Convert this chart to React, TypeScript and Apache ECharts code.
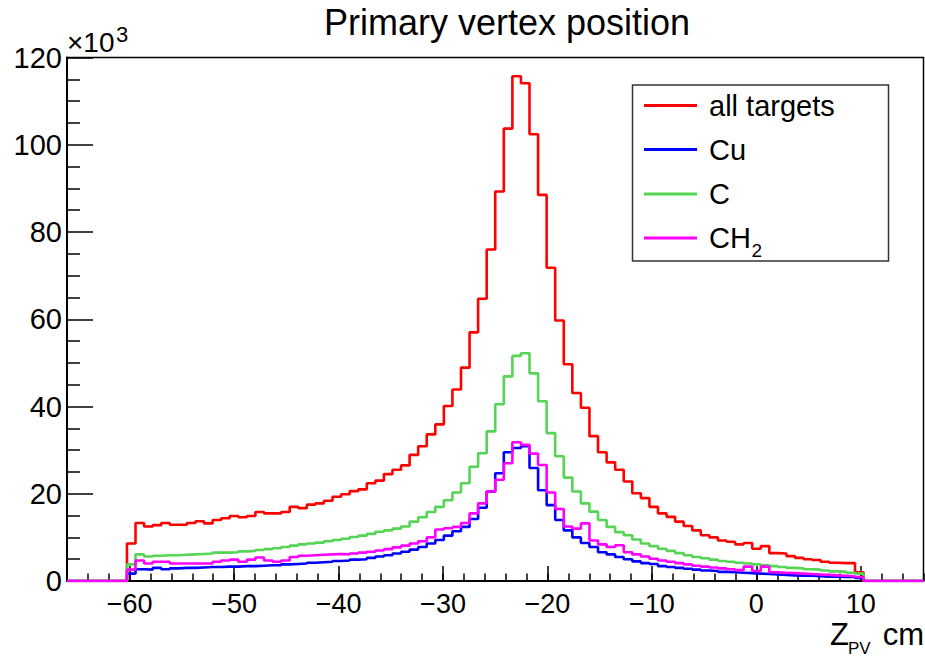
import React, { useEffect, useRef } from 'react';
import * as echarts from 'echarts';

const X_MIN = -66;
const X_MAX = 16;
const FIRST_BIN_EDGE = -60.26;
const BIN_WIDTH = 0.82;

const allTargets = [
  8.6, 13.3, 12.5, 12.8, 13.3, 12.9, 12.9, 13.3, 13.7, 13.2,
  14.0, 14.4, 14.9, 14.6, 14.9, 15.8, 15.5, 15.5, 15.8, 17.0,
  16.7, 17.5, 17.8, 18.4, 19.3, 19.9, 20.6, 21.0, 22.4, 23.0,
  24.5, 25.5, 26.5, 28.9, 30.9, 33.6, 35.9, 40.1, 43.9, 48.9,
  57.0, 64.7, 76.0, 89.3, 103.7, 115.7, 114.1, 102.4, 88.5, 71.8,
  59.7, 49.7, 43.1, 39.7, 33.2, 29.5, 27.2, 25.5, 22.8, 20.1,
  19.0, 17.0, 15.5, 14.7, 13.6, 12.6, 11.6, 10.5, 10.0, 9.3,
  9.0, 8.4, 8.7, 7.4, 8.0, 6.4, 6.3, 5.7, 5.3, 5.0,
  4.8, 4.4, 4.2, 4.1, 4.1, 2.0,
];

const cu = [
  1.7, 2.7, 2.6, 3.0, 2.7, 2.9, 3.0, 3.0, 3.1, 3.2,
  3.2, 3.3, 3.3, 3.4, 3.4, 3.5, 3.6, 3.6, 3.8, 3.9,
  4.0, 4.2, 4.3, 4.4, 4.6, 4.7, 4.9, 5.0, 5.3, 5.6,
  5.9, 6.3, 6.7, 7.2, 7.8, 8.6, 9.4, 10.4, 11.4, 12.4,
  14.2, 16.8, 20.5, 24.7, 29.5, 30.5, 30.9, 25.9, 20.8, 17.4,
  14.0, 11.6, 10.0, 8.7, 7.8, 6.6, 6.1, 5.5, 5.0, 4.5,
  4.1, 3.9, 3.4, 3.2, 3.0, 2.8, 2.6, 2.4, 2.3, 2.1,
  2.0, 1.9, 1.8, 1.7, 1.6, 1.5, 1.4, 1.3, 1.2, 1.2,
  1.1, 1.0, 1.0, 0.9, 0.9, 0.7,
];

const c = [
  3.8, 6.1, 5.6, 5.8, 5.9, 5.9, 6.0, 6.1, 6.2, 6.3,
  6.5, 6.5, 6.6, 6.8, 6.9, 7.1, 7.3, 7.5, 7.8, 8.1,
  8.4, 8.6, 8.8, 9.1, 9.4, 9.7, 10.1, 10.4, 10.8, 11.3,
  11.6, 12.0, 12.5, 13.6, 14.6, 15.8, 17.0, 18.5, 20.3, 22.4,
  26.2, 29.3, 34.3, 40.5, 46.9, 51.6, 52.2, 47.6, 41.2, 33.9,
  28.6, 23.7, 20.5, 17.8, 15.9, 14.0, 12.4, 11.2, 10.5, 9.5,
  8.6, 8.0, 7.4, 6.9, 6.4, 5.9, 5.5, 5.2, 4.9, 4.6,
  4.4, 4.2, 4.0, 3.8, 3.6, 3.4, 3.2, 3.0, 2.9, 2.7,
  2.6, 2.4, 2.2, 2.1, 1.9, 1.7,
];

const ch2 = [
  2.6, 4.7, 4.0, 4.4, 4.4, 4.0, 4.0, 4.0, 4.0, 4.0,
  4.4, 4.7, 4.9, 4.4, 4.9, 5.4, 4.7, 4.4, 4.7, 5.5,
  5.8, 5.9, 6.0, 6.1, 6.2, 6.1, 6.3, 6.5, 6.7, 7.0,
  7.3, 7.7, 8.1, 8.6, 9.1, 10.0, 11.8, 12.1, 12.4, 13.3,
  15.5, 17.8, 20.5, 23.2, 27.0, 31.8, 31.2, 29.2, 26.6, 20.3,
  16.5, 12.5, 12.0, 13.2, 9.3, 8.4, 7.8, 8.2, 6.6, 6.1,
  5.6, 5.1, 4.7, 4.4, 4.1, 3.8, 3.5, 3.3, 3.1, 2.9,
  2.7, 2.5, 3.3, 2.3, 3.3, 2.0, 1.9, 1.8, 1.7, 1.6,
  1.5, 1.4, 1.3, 1.2, 1.1, 0.9,
];

const xLabelValues = [-60, -50, -40, -30, -20, -10, 0, 10];

const seriesDefs = [
  { name: 'all targets', values: allTargets, color: '#ff0000' },
  { name: 'Cu', values: cu, color: '#0000ff' },
  { name: 'C', values: c, color: '#55d455' },
  { name: 'CH₂', values: ch2, color: '#ff00ff' },
];

const FONT = "'Liberation Sans', Arial, Helvetica, sans-serif";
const TICK_STYLE = { color: '#000', width: 1.5 };

function histPoints(values: number[]): number[][] {
  const pts: number[][] = [[X_MIN, 0]];
  values.forEach((v, i) => {
    pts.push([+(FIRST_BIN_EDGE + i * BIN_WIDTH).toFixed(3), v]);
  });
  pts.push([+(FIRST_BIN_EDGE + values.length * BIN_WIDTH).toFixed(3), 0]);
  pts.push([X_MAX, 0]);
  return pts;
}

function fmtNum(v: number): string {
  return v < 0 ? '\u2212' + Math.abs(v) : String(v);
}

export default function App() {
  const ref = useRef<HTMLDivElement>(null);

  useEffect(() => {
    if (!ref.current) return;
    const chart = echarts.init(ref.current, null, { renderer: 'svg' });

    const legendRows = [105.5, 149.5, 194, 238];
    const legendGraphics: any[] = [
      {
        type: 'rect',
        z: 100,
        shape: { x: 632.5, y: 85, width: 256, height: 176 },
        style: { fill: '#ffffff', stroke: '#333333', lineWidth: 1.5 },
      },
    ];
    seriesDefs.forEach((s, i) => {
      const y = legendRows[i];
      legendGraphics.push({
        type: 'line',
        z: 101,
        shape: { x1: 644, y1: y, x2: 697, y2: y },
        style: { stroke: s.color, lineWidth: 3 },
      });
      const label = s.name === 'CH₂' ? 'CH' : s.name;
      legendGraphics.push({
        type: 'text',
        z: 101,
        x: 709,
        y,
        style: {
          text: label,
          fill: '#000',
          fontSize: 29,
          fontFamily: FONT,
          align: 'left',
          verticalAlign: 'middle',
        },
      });
      if (s.name === 'CH₂') {
        legendGraphics.push({
          type: 'text',
          z: 101,
          x: 751.5,
          y: y + 12,
          style: {
            text: '2',
            fill: '#000',
            fontSize: 19,
            fontFamily: FONT,
            align: 'left',
            verticalAlign: 'middle',
          },
        });
      }
    });

    const option: any = {
      animation: false,
      backgroundColor: '#ffffff',
      title: {
        text: 'Primary vertex position',
        left: 507,
        top: 4,
        textAlign: 'center',
        padding: 0,
        textStyle: { fontSize: 36, fontWeight: 'normal', color: '#000', fontFamily: FONT },
      },
      grid: {
        left: 67,
        right: 1.5,
        top: 57.5,
        bottom: 76,
        show: true,
        borderColor: '#000',
        borderWidth: 1.5,
        backgroundColor: 'transparent',
        outerBoundsMode: 'none',
      },
      xAxis: [
        {
          type: 'value',
          position: 'bottom',
          min: X_MIN,
          max: X_MAX,
          interval: 2,
          axisLine: { show: true, onZero: false, lineStyle: { color: '#000', width: 2 } },
          axisTick: { show: true, inside: true, length: 7.5, lineStyle: TICK_STYLE },
          splitLine: { show: false },
          axisLabel: {
            color: '#000',
            fontSize: 27,
            fontFamily: FONT,
            margin: 9,
            formatter: (v: number) => (Math.abs(v % 10) < 1e-9 ? fmtNum(v) : ''),
          },
        },
        {
          type: 'value',
          position: 'bottom',
          min: X_MIN,
          max: X_MAX,
          axisLine: { show: false, onZero: false },
          axisLabel: { show: false },
          splitLine: { show: false },
          axisTick: {
            show: true,
            inside: true,
            length: 15,
            customValues: xLabelValues,
            lineStyle: TICK_STYLE,
          },
        },
      ],
      yAxis: {
        type: 'value',
        min: 0,
        max: 120,
        interval: 20,
        axisLine: { show: true, onZero: false, lineStyle: { color: '#000', width: 2 } },
        axisTick: { show: true, inside: true, length: 26, lineStyle: TICK_STYLE },
        minorTick: { show: true, splitNumber: 4, length: 13, lineStyle: TICK_STYLE },
        splitLine: { show: false },
        minorSplitLine: { show: false },
        axisLabel: { color: '#000', fontSize: 29, fontFamily: FONT, margin: 5 },
      },
      series: seriesDefs.map((s) => ({
        name: s.name,
        type: 'line',
        step: 'end',
        xAxisIndex: 0,
        yAxisIndex: 0,
        data: histPoints(s.values),
        symbol: 'none',
        silent: true,
        lineStyle: { color: s.color, width: 2.6 },
        itemStyle: { color: s.color },
      })),
      graphic: [
        {
          type: 'text',
          x: 67,
          y: 42,
          style: { text: '×10', fill: '#000', fontSize: 28, fontFamily: FONT, align: 'left', verticalAlign: 'middle' },
        },
        {
          type: 'text',
          x: 116,
          y: 34,
          style: { text: '3', fill: '#000', fontSize: 22, fontFamily: FONT, align: 'left', verticalAlign: 'middle' },
        },
        {
          type: 'text',
          x: 830,
          y: 634,
          style: { text: 'Z', fill: '#000', fontSize: 31, fontFamily: FONT, align: 'left', verticalAlign: 'middle' },
        },
        {
          type: 'text',
          x: 848,
          y: 648,
          style: { text: 'PV', fill: '#000', fontSize: 17, fontFamily: FONT, align: 'left', verticalAlign: 'middle' },
        },
        {
          type: 'text',
          x: 924,
          y: 634,
          style: { text: 'cm', fill: '#000', fontSize: 31, fontFamily: FONT, align: 'right', verticalAlign: 'middle' },
        },
        ...legendGraphics,
      ],
    };

    chart.setOption(option);
    return () => chart.dispose();
  }, []);

  return (
    <div
      ref={ref}
      style={{ position: 'fixed', left: 0, top: 0, width: 925, height: 657, background: '#fff' }}
    />
  );
}
